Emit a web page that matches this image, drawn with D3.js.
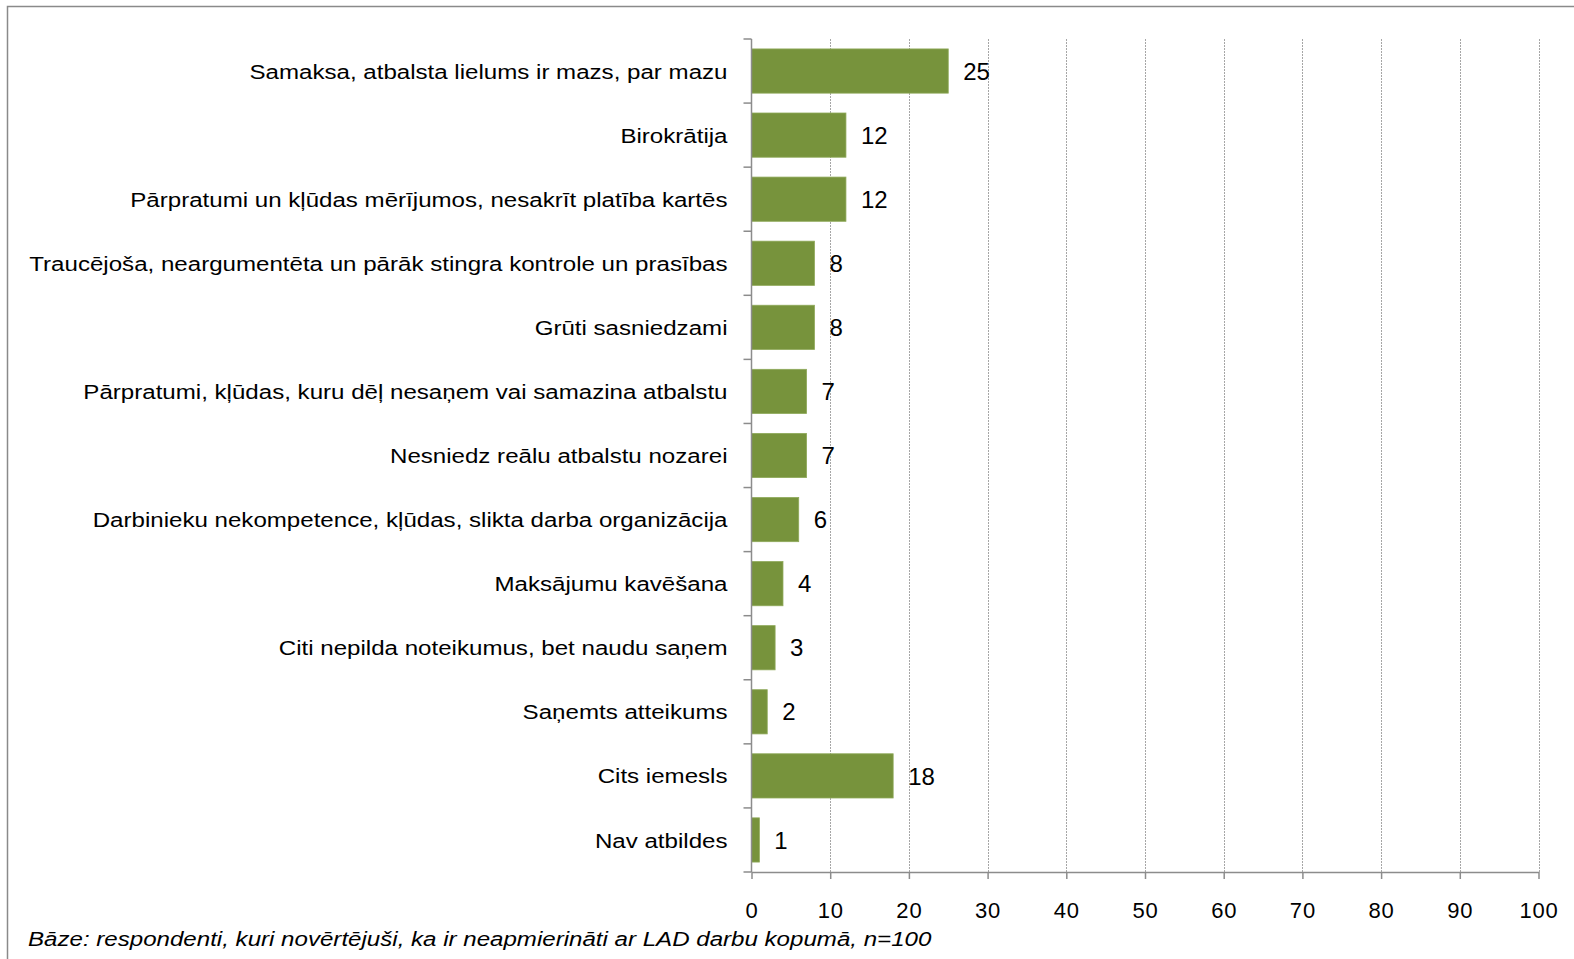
<!DOCTYPE html>
<html>
<head>
<meta charset="utf-8">
<script src="https://cdn.jsdelivr.net/npm/d3@7"></script>
<style>
  html, body { margin: 0; padding: 0; background: #fff; }
  svg { display: block; }
  text { font-family: "Liberation Sans", Arial, sans-serif; fill: #000; }
</style>
</head>
<body>
<svg id="chart" width="1574" height="959"></svg>
<script>
// Reasons for dissatisfaction, share of respondents (%)
const categories = [
  "Samaksa, atbalsta lielums ir mazs, par mazu",
  "Birokrātija",
  "Pārpratumi un kļūdas mērījumos, nesakrīt platība kartēs",
  "Traucējoša, neargumentēta un pārāk stingra kontrole un prasības",
  "Grūti sasniedzami",
  "Pārpratumi, kļūdas, kuru dēļ nesaņem vai samazina atbalstu",
  "Nesniedz reālu atbalstu nozarei",
  "Darbinieku nekompetence, kļūdas, slikta darba organizācija",
  "Maksājumu kavēšana",
  "Citi nepilda noteikumus, bet naudu saņem",
  "Saņemts atteikums",
  "Cits iemesls",
  "Nav atbildes"
];
const values = [25, 12, 12, 8, 8, 7, 7, 6, 4, 3, 2, 18, 1];
const xTicks = [0, 10, 20, 30, 40, 50, 60, 70, 80, 90, 100];
const footnote = "Bāze: respondenti, kuri novērtējuši, ka ir neapmierināti ar LAD darbu kopumā, n=100";

const svg = d3.select("#chart");
const W = 1574, H = 959;
const plot = { left: 751.5, right: 1538.5, top: 39, bottom: 872 };
const axisColor = "#8c8c8c";
const barColor = "#77933c";
const wide = 1.148; // horizontal stretch of the label typeface

// outer frame (open on the right and bottom)
svg.append("path")
  .attr("d", `M7.5,${H} V6.5 H${W}`)
  .attr("fill", "none")
  .attr("stroke", "#8a8a8a")
  .attr("stroke-width", 1.5);

const x = d3.scaleLinear().domain([0, 100]).range([plot.left, plot.right]);
const y = d3.scaleBand().domain(categories).range([plot.top, plot.bottom]).paddingInner(0.31).paddingOuter(0.155);

// vertical dotted gridlines
svg.append("g")
  .selectAll("line")
  .data(xTicks.filter(d => d > 0))
  .join("line")
  .attr("x1", d => Math.round(x(d)) + 0.5)
  .attr("x2", d => Math.round(x(d)) + 0.5)
  .attr("y1", plot.top)
  .attr("y2", plot.bottom)
  .attr("stroke", "#a6a6a6")
  .attr("stroke-width", 1)
  .attr("stroke-dasharray", "2,1");

// bars
svg.append("g")
  .selectAll("rect")
  .data(values)
  .join("rect")
  .attr("x", x(0))
  .attr("y", (d, i) => y(categories[i]))
  .attr("width", d => x(d) - x(0))
  .attr("height", y.bandwidth())
  .attr("fill", barColor)
  .attr("stroke", "#8fa95a")
  .attr("stroke-width", 0.8);

// value labels
svg.append("g")
  .selectAll("text")
  .data(values)
  .join("text")
  .attr("x", d => x(d) + 15)
  .attr("y", (d, i) => y(categories[i]) + y.bandwidth() / 2)
  .attr("dy", "0.36em")
  .attr("font-size", 24)
  .text(d => d);

// x axis
const xAxis = d3.axisBottom(x).tickValues(xTicks).tickSize(7).tickPadding(23).tickSizeOuter(0);
const gx = svg.append("g").attr("transform", `translate(0,${plot.bottom})`).call(xAxis);
gx.select(".domain").attr("stroke", axisColor).attr("stroke-width", 1.5);
gx.selectAll(".tick line").attr("stroke", axisColor).attr("stroke-width", 1.5);
gx.selectAll(".tick text")
  .attr("font-family", "Liberation Sans, Arial, sans-serif")
  .attr("font-size", 22)
  .attr("letter-spacing", 0.8)
  .attr("fill", "#000");

// y axis: spine plus ticks at category boundaries
const boundaries = d3.range(categories.length + 1).map(i => plot.top + i * (plot.bottom - plot.top) / categories.length);
const gy = svg.append("g");
gy.append("line")
  .attr("x1", plot.left).attr("x2", plot.left)
  .attr("y1", plot.top).attr("y2", plot.bottom)
  .attr("stroke", axisColor).attr("stroke-width", 1.5);
gy.selectAll("line.b")
  .data(boundaries)
  .join("line")
  .attr("class", "b")
  .attr("x1", plot.left - 8).attr("x2", plot.left)
  .attr("y1", d => d).attr("y2", d => d)
  .attr("stroke", axisColor).attr("stroke-width", 1.5);

// category labels
gy.selectAll("g.lab")
  .data(categories)
  .join("g")
  .attr("class", "lab")
  .attr("transform", d => `translate(${plot.left - 24},${y(d) + y.bandwidth() / 2}) scale(${wide},1)`)
  .append("text")
  .attr("dy", "0.36em")
  .attr("text-anchor", "end")
  .attr("font-size", 21)
  .text(d => d);

// footnote
svg.append("g")
  .attr("transform", `translate(28,946) scale(${wide},1)`)
  .append("text")
  .attr("font-size", 21)
  .attr("font-style", "italic")
  .text(footnote);
</script>
</body>
</html>
